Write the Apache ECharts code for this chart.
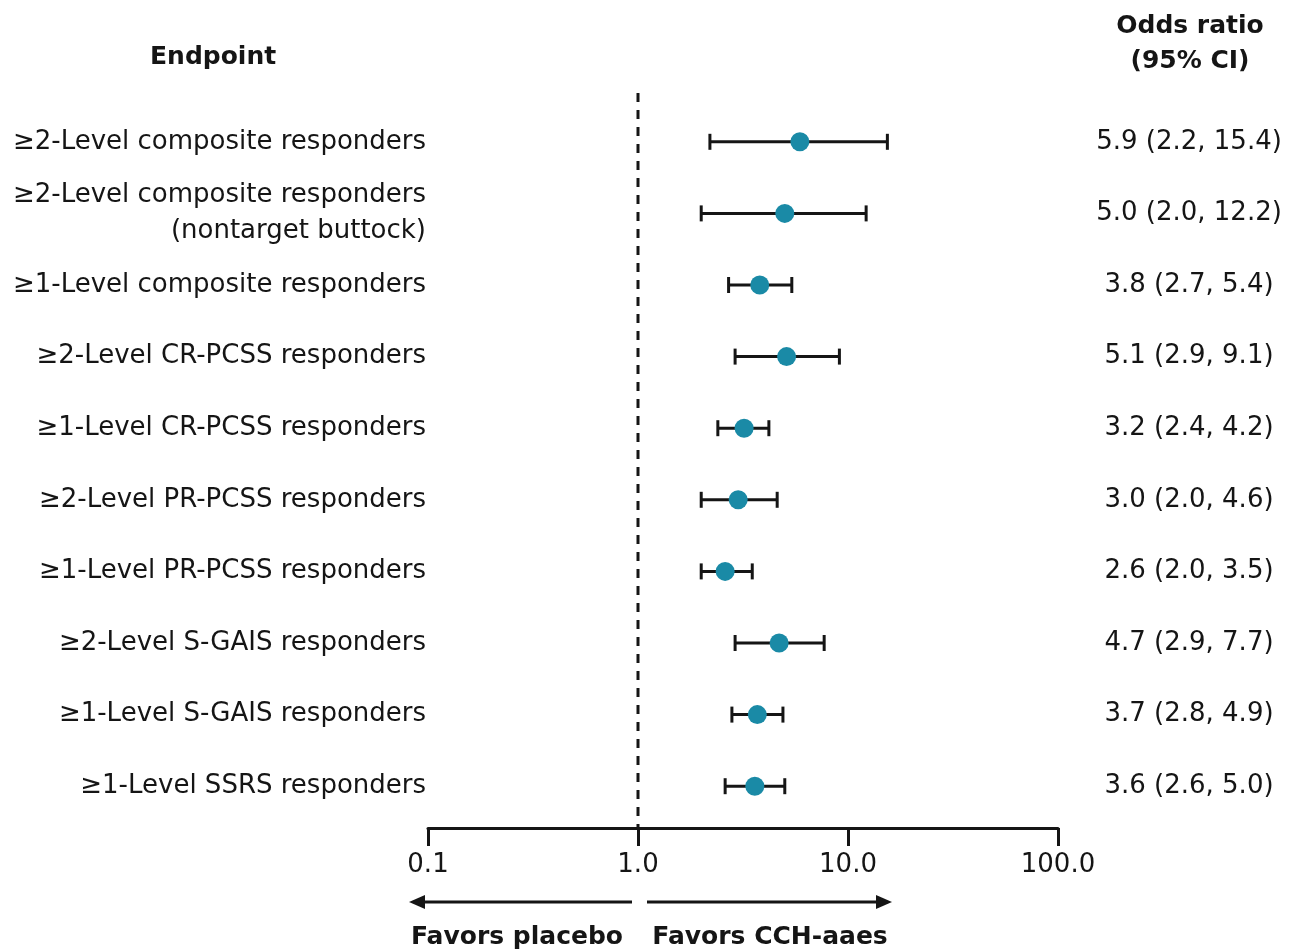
<!DOCTYPE html>
<html>
	<head>
		<meta charset="utf-8">
		<title>Odds ratio forest plot</title>
		<script src="https://cdn.jsdelivr.net/npm/echarts@6/dist/echarts.min.js" type="text/javascript" charset="utf-8"></script>
		<style>
			html, body { margin: 0; padding: 0; background: #fff; }
		</style>
	</head>
	<body>
		<div id="mainChart" style="width: 1292px;height:952px;"></div>
		<script type="text/javascript">
			// data
			var endpoints = [
				'≥2-Level composite responders',
				'≥2-Level composite responders\n(nontarget buttock)',
				'≥1-Level composite responders',
				'≥2-Level CR-PCSS responders',
				'≥1-Level CR-PCSS responders',
				'≥2-Level PR-PCSS responders',
				'≥1-Level PR-PCSS responders',
				'≥2-Level S-GAIS responders',
				'≥1-Level S-GAIS responders',
				'≥1-Level SSRS responders'
			];
			var oddsRatio = [5.9, 5.0, 3.8, 5.1, 3.2, 3.0, 2.6, 4.7, 3.7, 3.6];
			var ciLow = [2.2, 2.0, 2.7, 2.9, 2.4, 2.0, 2.0, 2.9, 2.8, 2.6];
			var ciHigh = [15.4, 12.2, 5.4, 9.1, 4.2, 4.6, 3.5, 7.7, 4.9, 5.0];
			var xTicks = [0.1, 1, 10, 100];
			var refValue = 1;

			var FONT = 'DejaVu Sans';
			var INK = '#151515';
			var DOT = '#1a8aa6';

			var ciText = [];
			var points = [];
			var bars = [];
			for (var i = 0; i < endpoints.length; i++) {
				ciText.push(oddsRatio[i].toFixed(1) + ' (' + ciLow[i].toFixed(1) + ', ' + ciHigh[i].toFixed(1) + ')');
				points.push([oddsRatio[i], i]);
				bars.push([ciLow[i], ciHigh[i], i]);
			}

			var dom = document.getElementById('mainChart');
			var myChart = echarts.init(dom, null, { renderer: 'canvas' });

			var option = {
				animation: false,
				backgroundColor: '#fff',
				textStyle: { fontFamily: FONT, color: INK },
				grid: { left: 428, right: 234, top: 106, bottom: 130, containLabel: false },
				xAxis: {
					type: 'log',
					logBase: 10,
					min: xTicks[0],
					max: xTicks[xTicks.length - 1],
					offset: 6,
					splitLine: { show: false },
					minorTick: { show: false },
					axisLine: { show: true, lineStyle: { color: INK, width: 3 } },
					axisTick: { show: true, inside: false, length: 18, lineStyle: { color: INK, width: 3 } },
					axisLabel: {
						margin: 24,
						fontSize: 26,
						fontFamily: FONT,
						color: INK,
						formatter: function(v) { return Number(v).toFixed(1); }
					}
				},
				yAxis: [{
					type: 'category',
					inverse: true,
					data: endpoints,
					axisLine: { show: false },
					axisTick: { show: false },
					splitLine: { show: false },
					axisLabel: {
						margin: 2,
						fontSize: 26,
						lineHeight: 36,
						fontFamily: FONT,
						color: INK,
						align: 'right'
					}
				}, {
					type: 'category',
					inverse: true,
					position: 'right',
					data: ciText,
					axisLine: { show: false },
					axisTick: { show: false },
					splitLine: { show: false },
					axisLabel: {
						margin: 131,
						fontSize: 26,
						fontFamily: FONT,
						color: INK,
						align: 'center'
					}
				}],
				series: [{
					// reference line at OR = 1, runs a bit above the plot area
					type: 'custom',
					silent: true,
					data: [[refValue, 0]],
					encode: { x: 0, y: 1 },
					renderItem: function(params, api) {
						var x = api.coord([api.value(0), 0])[0];
						var cs = params.coordSys;
						return {
							type: 'line',
							shape: { x1: x, y1: cs.y - 13, x2: x, y2: cs.y + cs.height + 6 },
							style: { stroke: INK, lineWidth: 3, lineDash: [9, 8] }
						};
					},
					z: 1
				}, {
					// confidence interval whiskers
					type: 'custom',
					data: bars,
					encode: { x: [0, 1], y: 2 },
					renderItem: function(params, api) {
						var a = api.coord([api.value(0), api.value(2)]);
						var b = api.coord([api.value(1), api.value(2)]);
						var h = 8;
						var st = { stroke: INK, lineWidth: 3 };
						return {
							type: 'group',
							children: [
								{ type: 'line', shape: { x1: a[0], y1: a[1], x2: b[0], y2: b[1] }, style: st },
								{ type: 'line', shape: { x1: a[0], y1: a[1] - h, x2: a[0], y2: a[1] + h }, style: st },
								{ type: 'line', shape: { x1: b[0], y1: b[1] - h, x2: b[0], y2: b[1] + h }, style: st }
							]
						};
					},
					z: 2
				}, {
					type: 'scatter',
					data: points,
					symbol: 'circle',
					symbolSize: 19,
					itemStyle: { color: DOT, opacity: 1 },
					z: 3
				}],
				graphic: [
					{ type: 'text', left: 150, top: 45,
						style: { text: 'Endpoint', font: 'bold 25px "DejaVu Sans"', fill: INK } },
					{ type: 'text', x: 1190, y: 44,
						style: { text: 'Odds ratio\n(95% CI)', font: 'bold 25px "DejaVu Sans"', fill: INK,
							align: 'center', verticalAlign: 'middle', lineHeight: 35 } },
					// arrows
					{ type: 'line', shape: { x1: 420, y1: 902, x2: 632, y2: 902 }, style: { stroke: INK, lineWidth: 3 } },
					{ type: 'polygon', shape: { points: [[409, 902], [425, 895], [425, 909]] }, style: { fill: INK } },
					{ type: 'line', shape: { x1: 647, y1: 902, x2: 881, y2: 902 }, style: { stroke: INK, lineWidth: 3 } },
					{ type: 'polygon', shape: { points: [[892, 902], [876, 895], [876, 909]] }, style: { fill: INK } },
					{ type: 'text', x: 517, y: 937,
						style: { text: 'Favors placebo', font: 'bold 25px "DejaVu Sans"', fill: INK, align: 'center', verticalAlign: 'middle' } },
					{ type: 'text', x: 770, y: 937,
						style: { text: 'Favors CCH-aaes', font: 'bold 25px "DejaVu Sans"', fill: INK, align: 'center', verticalAlign: 'middle' } }
				]
			};
			myChart.setOption(option, true);
		</script>
	</body>
</html>
